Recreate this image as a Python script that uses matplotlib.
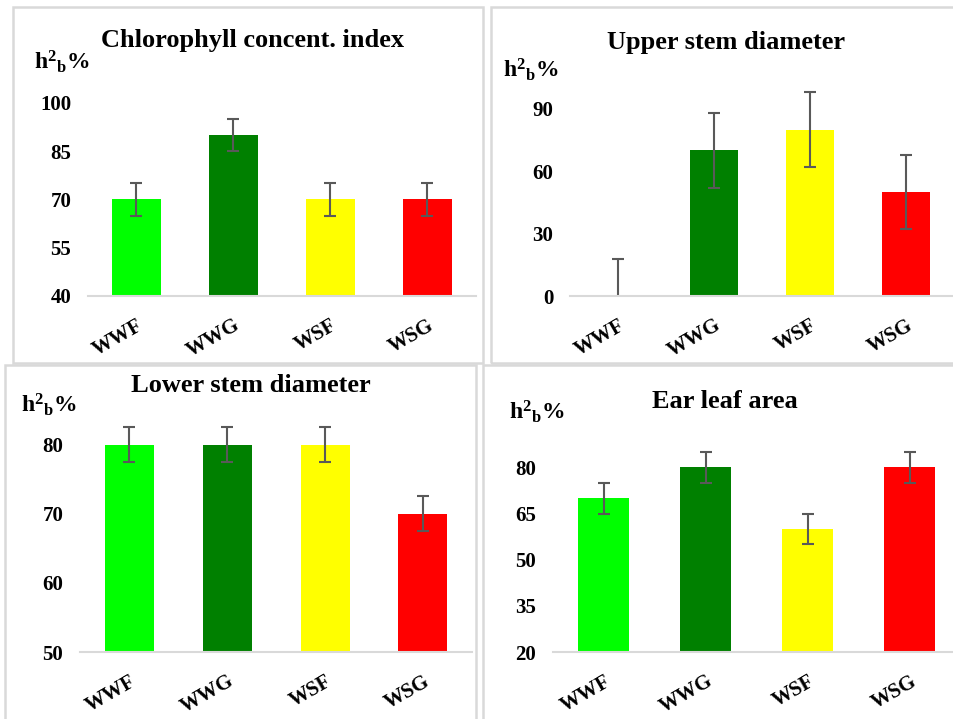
import matplotlib.pyplot as plt
from matplotlib.patches import Rectangle

plt.rcParams["font.family"] = ["Liberation Serif", "DejaVu Serif"]
plt.rcParams["mathtext.fontset"] = "custom"
plt.rcParams["mathtext.rm"] = "Liberation Serif"
plt.rcParams["mathtext.bf"] = "Liberation Serif:bold"

W, H = 954, 719

categories = ["WWF", "WWG", "WSF", "WSG"]
bar_colors = ["#00FF00", "#008000", "#FFFF00", "#FF0000"]

titles = ["Chlorophyll concent. index", "Upper stem diameter",
          "Lower stem diameter", "Ear leaf area"]

chlorophyll = [70, 90, 70, 70]
chlorophyll_err = [5, 5, 5, 5]
upper_stem = [0, 70, 80, 50]
upper_stem_err = [18, 18, 18, 18]
lower_stem = [80, 80, 80, 70]
lower_stem_err = [2.5, 2.5, 2.5, 2.5]
ear_leaf = [70, 80, 60, 80]
ear_leaf_err = [5, 5, 5, 5]

yticks = [[40, 55, 70, 85, 100], [0, 30, 60, 90], [50, 60, 70, 80], [20, 35, 50, 65, 80]]
ylims = [(40, 100), (0, 100), (50, 85), (20, 86)]

# layout in pixels: axes (left, top, right, bottom), frame box, title centre, label pos
axes_px = [(88, 103, 476, 296), (570, 88, 954, 296), (80, 410, 472, 652), (553, 449, 961, 652)]
boxes_px = [(13, 7, 483, 363), (491, 7, 960, 363), (5, 365, 476, 725), (483, 365, 960, 725)]
title_px = [(253, 40), (726, 43), (251, 385), (725, 401)]
ylab_px = [(34, 62), (503, 70), (21, 405), (509, 412)]

series = [(chlorophyll, chlorophyll_err), (upper_stem, upper_stem_err),
          (lower_stem, lower_stem_err), (ear_leaf, ear_leaf_err)]

fig = plt.figure(figsize=(W / 100, H / 100), dpi=100)
fig.patch.set_facecolor("white")

for (x0, y0, x1, y1) in boxes_px:
    fig.patches.append(Rectangle((x0 / W, 1 - y1 / H), (x1 - x0) / W, (y1 - y0) / H,
                                 transform=fig.transFigure, fill=False,
                                 edgecolor="#d9d9d9", linewidth=1.8))

for i, (vals, errs) in enumerate(series):
    l, t, r, b = axes_px[i]
    ax = fig.add_axes([l / W, 1 - b / H, (r - l) / W, (b - t) / H])
    x = range(len(categories))
    ax.bar(x, vals, width=0.5, color=bar_colors)
    ax.errorbar(x, vals, yerr=errs, fmt="none", ecolor="#595959", elinewidth=1.5,
                capsize=4, capthick=1.5)
    ax.set_xlim(-0.5, 3.5)
    ax.set_ylim(*ylims[i])
    ax.set_yticks(yticks[i])
    ax.set_xticks(list(x))
    ax.set_xticklabels(categories, rotation=30, ha="right", va="top",
                       rotation_mode="anchor")
    ax.tick_params(length=0, labelsize=15)
    ax.tick_params(axis="y", pad=12)
    ax.tick_params(axis="x", pad=14)
    for lab in ax.get_xticklabels() + ax.get_yticklabels():
        lab.set_fontweight("bold")
    for side in ["top", "right", "left"]:
        ax.spines[side].set_visible(False)
    ax.spines["bottom"].set_color("#d9d9d9")
    ax.spines["bottom"].set_linewidth(1.5)
    ax.patch.set_alpha(0)

    tx, ty = title_px[i]
    fig.text(tx / W, 1 - ty / H, titles[i], ha="center", va="center",
             fontsize=19, fontweight="bold")
    lx, ly = ylab_px[i]
    fig.text(lx / W, 1 - ly / H, r"$\mathbf{h^{2}{}_{b}\%}$", ha="left", va="center",
             fontsize=17)

fig.savefig("out.png", dpi=100)
